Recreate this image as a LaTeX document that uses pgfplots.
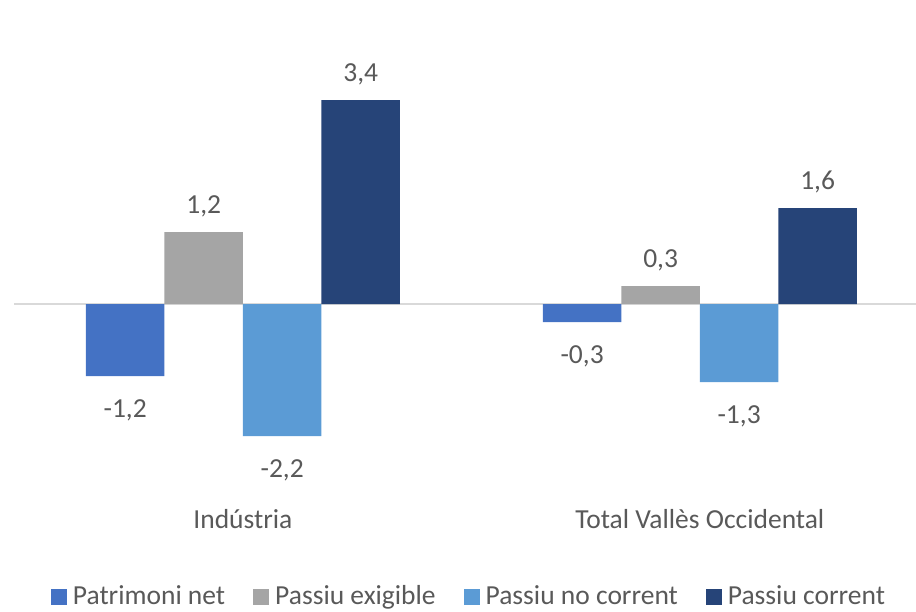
\documentclass[border=0pt]{standalone}
\usepackage{fontspec}
\setmainfont{Carlito}
\usepackage{pgfplots}
\pgfplotsset{compat=1.18}
\definecolor{txt}{HTML}{595959}
\definecolor{zl}{HTML}{D9D9D9}
\definecolor{c1}{HTML}{4472C4}
\definecolor{c2}{HTML}{A5A5A5}
\definecolor{c3}{HTML}{5B9BD5}
\definecolor{c4}{HTML}{264478}
\begin{document}
\fontsize{27.5}{33}\selectfont
\begin{tikzpicture}[x=1pt,y=1pt]
\useasboundingbox (0,0) rectangle (916,611);
\begin{axis}[
  at={(14pt,111pt)}, anchor=south west,
  scale only axis, width=902pt, height=466pt,
  xmin=-0.501, xmax=1.473, ymin=-3.2667, ymax=4.5,
  clip=false,
  ybar=0pt, bar width=78.5pt,
  axis line style={draw=none},
  ytick=\empty,
  extra y ticks={0}, extra y tick labels={},
  extra y tick style={ymajorgrids=true, major grid style={draw=zl, line width=1.5pt}},
  xtick={0,1}, xticklabels={Indústria, Total Vallès Occidental},
  major tick length=0pt,
  xticklabel style={anchor=base, inner sep=0pt, yshift=-28pt, text=txt},
  nodes near coords, nodes near coords align=vertical,
  every node near coord/.append style={text=txt, inner xsep=0pt, inner ysep=12pt, text height=29pt, text depth=6pt},
  /pgf/number format/use comma,
  /pgf/number format/fixed,
  /pgf/number format/fixed zerofill,
  /pgf/number format/precision=1,
  /pgf/number format/assume math mode=true,
  legend columns=4,
  legend style={at={(0.5033,-0.2080)}, anchor=center, draw=none, fill=none, text=txt,
    nodes={inner sep=0pt},
    /tikz/every odd column/.append style={column sep=6pt},
    /tikz/every even column/.append style={column sep=28pt}},
  legend image code/.code={\fill[#1,draw=none] (0pt,-8pt) rectangle (16pt,8pt);},
]
\addplot[fill=c1, draw=none] coordinates {(0,-1.2) (1,-0.3)};
\addplot[fill=c2, draw=none] coordinates {(0,1.2) (1,0.3)};
\addplot[fill=c3, draw=none] coordinates {(0,-2.2) (1,-1.3)};
\addplot[fill=c4, draw=none] coordinates {(0,3.4) (1,1.6)};
\legend{Patrimoni net, Passiu exigible, Passiu no corrent, Passiu corrent}
\end{axis}
\end{tikzpicture}
\end{document}
